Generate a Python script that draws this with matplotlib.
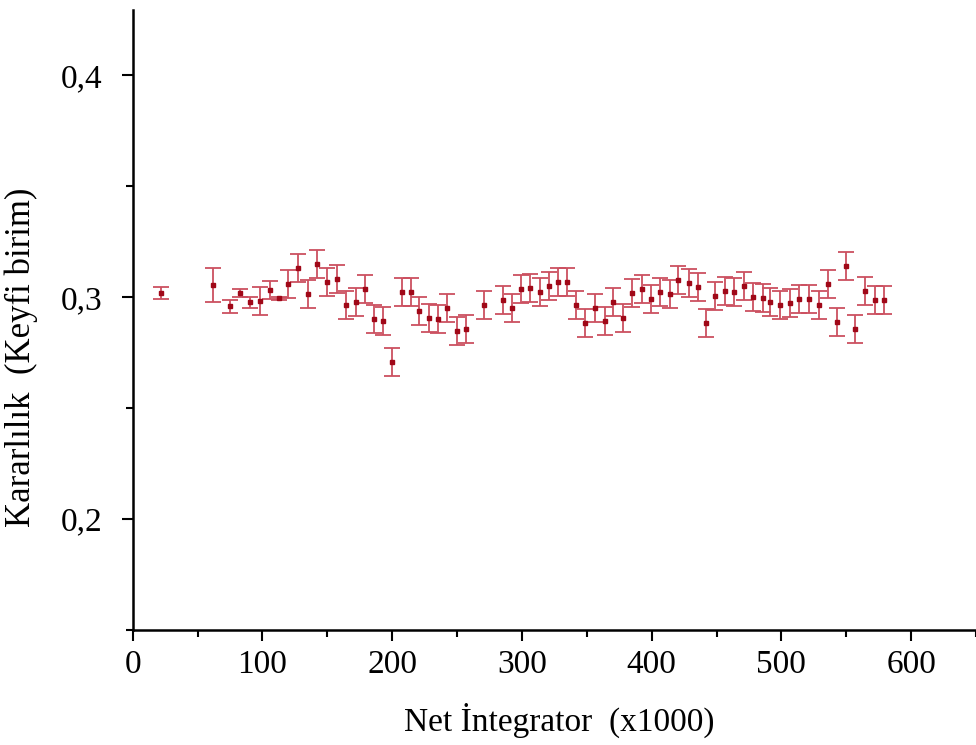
import matplotlib.pyplot as plt
from matplotlib.ticker import MultipleLocator, FuncFormatter

# Net integrator (x1000)
x_vals = [21.7, 62.2, 75.1, 82.8, 90.5, 98.2, 105.5, 112.9, 120.0, 127.3,
          135.0, 142.2, 149.7, 157.4, 164.3, 172.0, 179.2, 186.4, 193.3, 200.0,
          207.5, 214.4, 221.0, 228.5, 235.7, 242.6, 249.9, 257.1, 270.9, 285.4,
          292.5, 299.5, 306.4, 314.1, 321.0, 327.8, 334.9, 341.9, 349.0, 356.5,
          363.7, 370.6, 377.9, 385.0, 392.2, 399.5, 406.6, 413.8, 420.7, 428.5,
          435.4, 442.1, 449.0, 456.7, 463.6, 470.9, 478.1, 485.5, 491.5, 499.2,
          506.9, 513.8, 521.5, 528.7, 535.9, 543.1, 549.8, 557.0, 564.1, 571.8,
          579.1]

# Kararlilik values
y_vals = [0.3017, 0.3054, 0.2959, 0.3017, 0.2976, 0.2982, 0.3032, 0.2994, 0.3059, 0.3129,
          0.3014, 0.3149, 0.3069, 0.3080, 0.2963, 0.2979, 0.3036, 0.2901, 0.2893, 0.2707,
          0.3021, 0.3021, 0.2938, 0.2907, 0.2899, 0.2949, 0.2848, 0.2856, 0.2964, 0.2986,
          0.2949, 0.3035, 0.3042, 0.3021, 0.3051, 0.3066, 0.3066, 0.2964, 0.2884, 0.2952,
          0.2892, 0.2976, 0.2904, 0.3017, 0.3036, 0.2990, 0.3021, 0.3014, 0.3077, 0.3062,
          0.3044, 0.2884, 0.3005, 0.3028, 0.3021, 0.3050, 0.3001, 0.2997, 0.2979, 0.2964,
          0.2972, 0.2990, 0.2990, 0.2964, 0.3057, 0.2889, 0.3141, 0.2854, 0.3028, 0.2986,
          0.2986]

# error bars
y_err = [0.0027, 0.0076, 0.0029, 0.0018, 0.0025, 0.0065, 0.0041, 0.0008] + [0.0063] * 63

plt.rcParams['font.family'] = ['Liberation Serif', 'DejaVu Serif']

fig = plt.figure(figsize=(9.76, 7.45), dpi=100)
ax = fig.add_axes([0.1359, 0.1544, 0.8641, 0.8322])

ax.errorbar(x_vals, y_vals, yerr=y_err, fmt='s', color='#a00818', markersize=3,
            ecolor='#cc5060', elinewidth=1.3, capsize=5.5, capthick=1.3)

ax.set_xlim(0, 650)
ax.set_ylim(0.1498, 0.4295)

for s in ['top', 'right']:
    ax.spines[s].set_visible(False)
for s in ['left', 'bottom']:
    ax.spines[s].set_linewidth(1.8)

ax.xaxis.set_major_locator(MultipleLocator(100))
ax.xaxis.set_minor_locator(MultipleLocator(50))
ax.yaxis.set_major_locator(MultipleLocator(0.1))
ax.yaxis.set_minor_locator(MultipleLocator(0.05))
ax.yaxis.set_major_formatter(FuncFormatter(lambda v, p: f"{v:.1f}".replace('.', ',')))

ax.tick_params(which='major', direction='out', length=8, width=1.5, labelsize=24)
ax.tick_params(axis='x', which='major', pad=6)
ax.tick_params(axis='y', which='major', pad=14)
ax.tick_params(which='minor', direction='out', length=5, width=1.5)

ax.set_xlabel('Net İntegrator  (x1000)', fontsize=24, labelpad=16)
ax.set_ylabel('Kararlılık  (Keyfi birim)', fontsize=25)
ax.yaxis.set_label_coords(-0.112, 0.44)
ax.xaxis.set_label_coords(0.506, -0.118)

fig.savefig('out.png', dpi=100)
